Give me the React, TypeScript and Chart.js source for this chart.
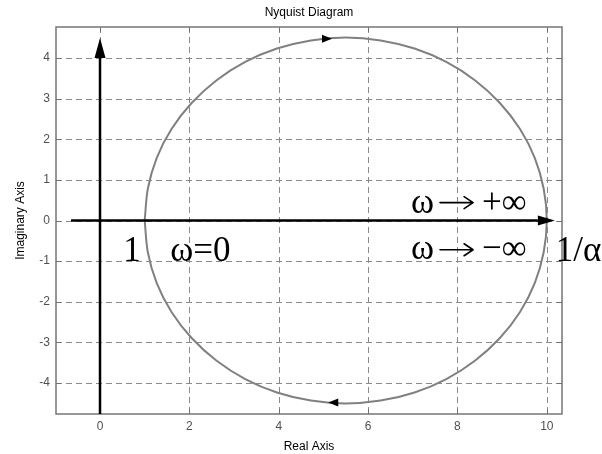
import { useEffect, useRef } from "react";
import { Chart, registerables } from "chart.js";

Chart.register(...registerables);

// Frequency response locus, ω = 0 → +∞ (upper half) then −∞ → 0 (lower half)
const curveRe = [
  1.0, 1.07, 1.27, 1.6, 2.05, 2.61, 3.25, 3.96, 4.72, 5.5, 6.28, 7.04, 7.75, 8.39, 8.95, 9.4, 9.73, 9.93, 10.0,
  9.93, 9.73, 9.4, 8.95, 8.39, 7.75, 7.04, 6.28, 5.5, 4.72, 3.96, 3.25, 2.61, 2.05, 1.6, 1.27, 1.07, 1.0,
];
const curveIm = [
  0.0, 0.78, 1.54, 2.25, 2.89, 3.45, 3.9, 4.23, 4.43, 4.5, 4.43, 4.23, 3.9, 3.45, 2.89, 2.25, 1.54, 0.78, 0.0,
  -0.78, -1.54, -2.25, -2.89, -3.45, -3.9, -4.23, -4.43, -4.5, -4.43, -4.23, -3.9, -3.45, -2.89, -2.25, -1.54, -0.78, 0.0,
];

const xTicks = [0, 2, 4, 6, 8, 10];
const yTicks = [-4, -3, -2, -1, 0, 1, 2, 3, 4];
const xLimits = [-0.985, 10.34];
const yLimits = [-4.76, 4.76];

// Bold coordinate axes: [x0, y0, x1, y1] with the head at (x1, y1)
const realAxisArrow = [-0.65, 0, 10.18, 0];
const imagAxisArrow = [0, -4.76, 0, 4.49];

// Direction markers on the locus: [re, im, direction (+1 right, -1 left)]
const directionMarks = [
  [5.08, 4.47, 1],
  [5.22, -4.48, -1],
];

// Annotations: [text, re, im]
const notes: [string, number, number][] = [
  ["1", 0.52, -0.99],
  ["ω=0", 1.57, -0.99],
  ["ω", 6.96, 0.19],
  ["+∞", 8.55, 0.19],
  ["ω", 6.96, -0.94],
  ["−∞", 8.55, -0.94],
  ["1/α", 10.2, -0.99],
];

// "tends to" arrows inside the annotations: [reFrom, reTo, im]
const noteArrows = [
  [7.61, 8.35, 0.44],
  [7.61, 8.35, -0.72],
];

const titleText = "Nyquist Diagram";
const xTitle = "Real Axis";
const yTitle = "Imaginary Axis";

const SANS = '"Liberation Sans", Arial, sans-serif';
const SERIF = '"Liberation Serif", "Times New Roman", serif';

const nyquistDecor = {
  id: "nyquistDecor",
  beforeDatasetsDraw(chart: any) {
    const { ctx, chartArea: a, scales } = chart;
    const xs = scales.x;
    const ys = scales.y;
    ctx.save();
    // dashed grid
    ctx.strokeStyle = "#8a8a8a";
    ctx.lineWidth = 1;
    ctx.setLineDash([6, 4]);
    for (const v of xTicks) {
      const px = Math.round(xs.getPixelForValue(v)) + 0.5;
      ctx.beginPath();
      ctx.moveTo(px, a.top);
      ctx.lineTo(px, a.bottom);
      ctx.stroke();
    }
    for (const v of yTicks) {
      const py = Math.round(ys.getPixelForValue(v)) + 0.5;
      ctx.beginPath();
      ctx.moveTo(a.left, py);
      ctx.lineTo(a.right, py);
      ctx.stroke();
    }
    ctx.setLineDash([]);
    // inward tick marks on all four sides
    ctx.strokeStyle = "#707070";
    const tl = 5;
    for (const v of xTicks) {
      const px = Math.round(xs.getPixelForValue(v)) + 0.5;
      ctx.beginPath();
      ctx.moveTo(px, a.bottom);
      ctx.lineTo(px, a.bottom - tl);
      ctx.moveTo(px, a.top);
      ctx.lineTo(px, a.top + tl);
      ctx.stroke();
    }
    for (const v of yTicks) {
      const py = Math.round(ys.getPixelForValue(v)) + 0.5;
      ctx.beginPath();
      ctx.moveTo(a.left, py);
      ctx.lineTo(a.left + tl, py);
      ctx.moveTo(a.right, py);
      ctx.lineTo(a.right - tl, py);
      ctx.stroke();
    }
    ctx.restore();
  },
  afterDatasetsDraw(chart: any) {
    const { ctx, chartArea: a, scales } = chart;
    const xs = scales.x;
    const ys = scales.y;
    const X = (v: number) => xs.getPixelForValue(v);
    const Y = (v: number) => ys.getPixelForValue(v);
    ctx.save();

    // axes box
    ctx.strokeStyle = "#767676";
    ctx.lineWidth = 1.5;
    ctx.strokeRect(a.left, a.top, a.right - a.left, a.bottom - a.top);

    // bold arrows
    const drawArrow = (arr: number[], headLen: number, headHalf: number) => {
      const x0 = X(arr[0]);
      const y0 = Y(arr[1]);
      const x1 = X(arr[2]);
      const y1 = Y(arr[3]);
      const ang = Math.atan2(y1 - y0, x1 - x0);
      const bx = x1 - headLen * Math.cos(ang);
      const by = y1 - headLen * Math.sin(ang);
      ctx.strokeStyle = "#000";
      ctx.lineWidth = 2.5;
      ctx.beginPath();
      ctx.moveTo(x0, y0);
      ctx.lineTo(bx, by);
      ctx.stroke();
      ctx.fillStyle = "#000";
      ctx.beginPath();
      ctx.moveTo(x1, y1);
      ctx.lineTo(bx + headHalf * Math.sin(ang), by - headHalf * Math.cos(ang));
      ctx.lineTo(bx - headHalf * Math.sin(ang), by + headHalf * Math.cos(ang));
      ctx.closePath();
      ctx.fill();
    };
    drawArrow(realAxisArrow, 17, 5);
    drawArrow(imagAxisArrow, 20, 5.5);

    // direction markers on the locus
    ctx.fillStyle = "#000";
    for (const [re, im, dir] of directionMarks) {
      const px = X(re);
      const py = Y(im);
      ctx.beginPath();
      ctx.moveTo(px + dir * 5, py);
      ctx.lineTo(px - dir * 5, py - 4);
      ctx.lineTo(px - dir * 5, py + 4);
      ctx.closePath();
      ctx.fill();
    }

    // annotations
    ctx.fillStyle = "#000";
    ctx.font = `35px ${SERIF}`;
    ctx.textAlign = "left";
    ctx.textBaseline = "alphabetic";
    for (const [t, re, im] of notes) {
      ctx.fillText(t, X(re), Y(im));
    }
    ctx.strokeStyle = "#000";
    ctx.lineWidth = 1.6;
    ctx.lineCap = "round";
    ctx.lineJoin = "round";
    for (const [r0, r1, im] of noteArrows) {
      const x0 = X(r0);
      const x1 = X(r1);
      const py = Y(im);
      ctx.beginPath();
      ctx.moveTo(x0, py);
      ctx.lineTo(x1, py);
      ctx.moveTo(x1 - 9, py - 6);
      ctx.lineTo(x1, py);
      ctx.lineTo(x1 - 9, py + 6);
      ctx.stroke();
    }

    // titles
    const cx = (a.left + a.right) / 2;
    const cy = (a.top + a.bottom) / 2;
    ctx.font = `12px ${SANS}`;
    ctx.textAlign = "center";
    ctx.textBaseline = "middle";
    ctx.fillStyle = "#000";
    ctx.fillText(titleText, cx, 13);
    ctx.fillText(xTitle, cx, 447);
    ctx.save();
    ctx.translate(21, cy);
    ctx.rotate(-Math.PI / 2);
    ctx.fillText(yTitle, 0, 0);
    ctx.restore();

    ctx.restore();
  },
};

export default function App() {
  const canvasRef = useRef<HTMLCanvasElement | null>(null);

  useEffect(() => {
    if (!canvasRef.current) return;
    const chart = new Chart(canvasRef.current, {
      type: "scatter",
      data: {
        datasets: [
          {
            data: curveRe.map((x, i) => ({ x, y: curveIm[i] })),
            showLine: true,
            borderColor: "#808080",
            borderWidth: 2,
            pointRadius: 0,
            tension: 0.3,
            fill: false,
          },
        ],
      },
      options: {
        responsive: false,
        animation: false,
        devicePixelRatio: 1,
        layout: { padding: { top: 27, right: 40, left: 0, bottom: 0 } },
        plugins: {
          legend: { display: false },
          title: { display: false },
          tooltip: { enabled: false },
        },
        scales: {
          x: {
            type: "linear",
            min: xLimits[0],
            max: xLimits[1],
            grid: { display: false, drawTicks: false },
            border: { display: false },
            afterBuildTicks: (s: any) => {
              s.ticks = xTicks.map((value) => ({ value }));
            },
            afterFit: (s: any) => {
              s.height = 40;
            },
            ticks: {
              color: "#505050",
              font: { family: SANS, size: 12 },
              padding: 5,
              maxRotation: 0,
              autoSkip: false,
            },
          },
          y: {
            type: "linear",
            min: yLimits[0],
            max: yLimits[1],
            grid: { display: false, drawTicks: false },
            border: { display: false },
            afterBuildTicks: (s: any) => {
              s.ticks = yTicks.map((value) => ({ value }));
            },
            afterFit: (s: any) => {
              s.width = 56;
            },
            ticks: {
              color: "#505050",
              font: { family: SANS, size: 12 },
              padding: 6,
              autoSkip: false,
            },
          },
        },
      },
      plugins: [nyquistDecor],
    });
    return () => chart.destroy();
  }, []);

  return (
    <div style={{ position: "absolute", left: 0, top: 0, width: 602, height: 454, background: "#fff" }}>
      <canvas ref={canvasRef} width={602} height={454} />
    </div>
  );
}
